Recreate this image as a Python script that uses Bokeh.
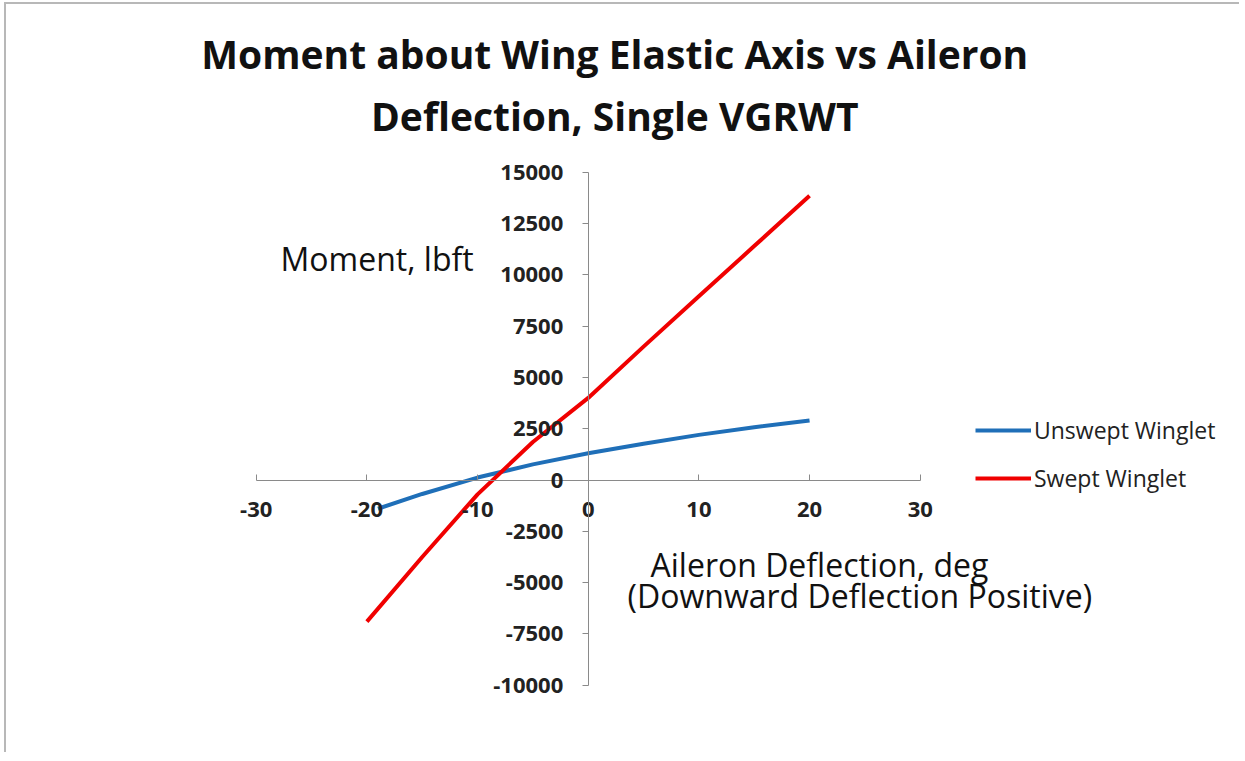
from bokeh.plotting import figure
from bokeh.models import Range1d, Label, Legend, LegendItem, FixedTicker
from bokeh.embed import file_html
from bokeh.resources import INLINE

# ---- data ----
unswept_x = [-19, -15, -10, -5, 0, 5, 10, 15, 20]
unswept_y = [-1400, -680, 120, 760, 1300, 1770, 2200, 2570, 2900]
swept_x = [-20, -15, -10, -5, 0, 5, 10, 15, 20]
swept_y = [-6900, -3750, -700, 1850, 4000, 6500, 8950, 11400, 13850]

x_ticks = [-30, -20, -10, 0, 10, 20, 30]
y_ticks = [-10000, -7500, -5000, -2500, 0, 2500, 5000, 7500, 10000, 12500, 15000]
x_axis_bounds = (-30, 30)
y_axis_bounds = (-10000, 15000)

title_lines = ["Moment about Wing Elastic Axis vs Aileron", "Deflection, Single VGRWT"]
y_label = "Moment, lbft"
x_label_lines = ["Aileron Deflection, deg", "(Downward Deflection Positive)"]
series_names = ["Unswept Winglet", "Swept Winglet"]

FONT = "Open Sans"

# the plotting frame covers nearly the whole canvas; the axes cross at the origin
p = figure(width=1235, height=750, output_backend="svg", toolbar_location=None,
           x_range=Range1d(-43.53, 58.58), y_range=Range1d(-10940, 22198),
           min_border_left=100, min_border_right=5, min_border_top=20, min_border_bottom=50)
p.styles = {"border-top": "2px solid #b8b8b8", "border-left": "2px solid #b8b8b8",
            "margin-left": "4px", "margin-top": "2px"}
p.outline_line_color = None
p.xgrid.visible = False
p.ygrid.visible = False
p.background_fill_color = "white"
p.border_fill_color = "white"

p.xaxis.fixed_location = 0
p.yaxis.fixed_location = 0
p.xaxis.bounds = x_axis_bounds
p.yaxis.bounds = y_axis_bounds
p.xaxis.ticker = FixedTicker(ticks=x_ticks)
p.yaxis.ticker = FixedTicker(ticks=y_ticks)
p.xaxis.major_label_overrides = {t: str(t) for t in x_ticks}
p.yaxis.major_label_overrides = {t: str(t) for t in y_ticks}
for ax in (p.xaxis, p.yaxis):
    ax.axis_line_color = "#8a8a8a"
    ax.axis_line_width = 1
    ax.major_tick_line_color = "#8a8a8a"
    ax.minor_tick_line_color = None
    ax.major_label_text_font = FONT
    ax.major_label_text_font_style = "bold"
    ax.major_label_text_font_size = "22px"
    ax.major_label_text_color = "#222222"
p.xaxis.major_tick_in = 6
p.xaxis.major_tick_out = 0
p.xaxis.major_label_standoff = 22
p.yaxis.major_tick_in = 0
p.yaxis.major_tick_out = 6
p.yaxis.major_label_standoff = 19

r_un = p.line(unswept_x, unswept_y, line_color="#1f6fb8", line_width=4)
r_sw = p.line(swept_x, swept_y, line_color="#f00000", line_width=4)

# title as two centred lines
for txt, yv in zip(title_lines, [20780, 17763]):
    p.add_layout(Label(x=2.4, y=yv, text=txt, text_align="center",
                       text_baseline="alphabetic", text_font=FONT, text_font_style="bold",
                       text_font_size="39px", text_color="#111111"))

# axis titles
p.add_layout(Label(x=-27.8, y=10794, text=y_label, text_align="left",
                   text_baseline="alphabetic", text_font=FONT,
                   text_font_size="32px", text_color="#111111"))
p.add_layout(Label(x=5.63, y=-4118, text=x_label_lines[0], text_align="left",
                   text_baseline="alphabetic", text_font=FONT,
                   text_font_size="32px", text_color="#111111"))
p.add_layout(Label(x=3.56, y=-5629, text=x_label_lines[1], text_align="left",
                   text_baseline="alphabetic", text_font=FONT,
                   text_font_size="32px", text_color="#111111"))

legend = Legend(items=[LegendItem(label=series_names[0], renderers=[r_un]),
                       LegendItem(label=series_names[1], renderers=[r_sw])],
                location=(869, 210), orientation="vertical",
                glyph_width=56, glyph_height=32, label_height=32, spacing=16,
                label_standoff=3, padding=0, margin=0,
                border_line_color=None, background_fill_alpha=0,
                label_text_font=FONT, label_text_font_size="23px",
                label_text_color="#222222")
p.add_layout(legend, "center")

open("out.html", "w").write(file_html(p, INLINE))
